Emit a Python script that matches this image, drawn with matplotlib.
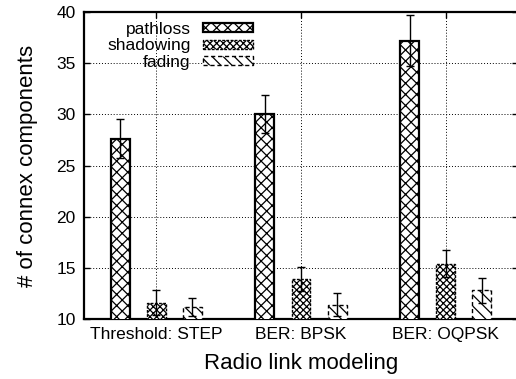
import matplotlib
matplotlib.use("Agg")
import matplotlib.pyplot as plt
import numpy as np

plt.rcParams['font.family'] = ['Liberation Sans', 'DejaVu Sans']
plt.rcParams['hatch.linewidth'] = 0.9

categories = ["Threshold: STEP", "BER: BPSK", "BER: OQPSK"]
series = ["pathloss", "shadowing", "fading"]
pathloss = [27.6, 30.0, 37.2]
pathloss_err = [1.9, 1.85, 2.5]
shadowing = [11.6, 13.9, 15.4]
shadowing_err = [1.2, 1.15, 1.3]
fading = [11.2, 11.4, 12.8]
fading_err = [0.9, 1.1, 1.2]

values = [pathloss, shadowing, fading]
errors = [pathloss_err, shadowing_err, fading_err]
hatches = ["xxx", "xxxxx", "\\\\\\"]
edge_styles = ["-", (0, (2, 1)), (0, (3, 2))]
edge_widths = [1.6, 1.0, 1.0]

fig = plt.figure(figsize=(5.16, 3.79), dpi=100)
# right border sits just past the image edge, like the original
ax = fig.add_axes([84 / 516, 60 / 379, 434 / 516, 307 / 379])

x = np.arange(len(categories))
offsets = [-0.25, 0.0, 0.25]
width = 0.13

for vals, errs, off, h, ls, lw, name in zip(values, errors, offsets, hatches,
                                             edge_styles, edge_widths, series):
    ax.bar(x + off, vals, width=width, bottom=0, color="white", edgecolor="black",
           hatch=h, linestyle=ls, linewidth=lw, label=name, zorder=3)
    ax.errorbar(x + off, vals, yerr=errs, fmt="none", ecolor="black",
                elinewidth=1.0, capsize=3, capthick=1.0, zorder=4)

ax.set_xlim(-0.5, 2.5)
ax.set_ylim(10, 40)
ax.set_yticks(np.arange(10, 41, 5))
ax.set_xticks(x)
ax.set_xticklabels(categories)

ax.grid(True, linestyle=(0, (1, 2)), color="black", linewidth=0.7, zorder=0)
ax.set_axisbelow(True)

ax.tick_params(direction="in", top=True, right=True, length=4, width=1,
               labelsize=12.5, pad=6)
for sp in ax.spines.values():
    sp.set_linewidth(1.6)

ax.set_xlabel("Radio link modeling", fontsize=16, labelpad=8)
ax.set_ylabel("# of connex components", fontsize=16, labelpad=13)

# markerfirst=False -> labels right-aligned, swatch on the right (gnuplot style)
leg = ax.legend(loc="upper right", bbox_to_anchor=(253 / 516, 1 - 22 / 379),
                bbox_transform=fig.transFigure, frameon=False, markerfirst=False,
                fontsize=12.5, handlelength=2.9, handleheight=0.45,
                handletextpad=0.7, labelspacing=0.08, borderpad=0,
                borderaxespad=0)

fig.savefig("out.png", dpi=100)
